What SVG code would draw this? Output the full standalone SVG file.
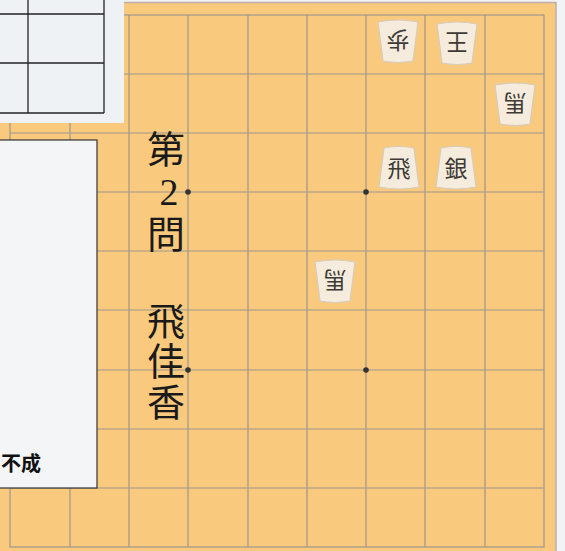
<svg xmlns="http://www.w3.org/2000/svg" width="565" height="551" viewBox="0 0 565 551">
<defs>
<style>
.grid{stroke:#9f978c;stroke-width:1.2;fill:none}
.piece{fill:#f5ecdd;stroke:#d6cbbb;stroke-width:1.2}
.pt{font-family:"Noto Sans CJK JP",sans-serif;font-size:23px;fill:#3e3a36;text-anchor:middle}
.title{font-family:"Liberation Serif","Noto Sans CJK JP",serif;font-size:38px;fill:#1a1a1a;text-anchor:middle}
.star{fill:#333}
</style>
<path id="pc" class="piece" d="M-15,-21 Q0,-24 15,-21 L20,18 Q0,22 -20,18 Z"/>
</defs>
<rect x="0" y="0" width="565" height="551" fill="#f1f3f5"/>
<g id="board">
<path d="M124,2 H556 V551 H0 V123 H124 Z" fill="#f9c97e"/>
<line x1="124" y1="2.5" x2="556" y2="2.5" stroke="#c2aab0" stroke-width="1.5"/>
<line x1="556" y1="2" x2="556" y2="551" stroke="#b7b2ac" stroke-width="1.5"/>
<g class="grid">
<rect x="10" y="15" width="534" height="532"/>
<line x1="70" y1="15" x2="70" y2="547"/>
<line x1="129" y1="15" x2="129" y2="547"/>
<line x1="188" y1="15" x2="188" y2="547"/>
<line x1="248" y1="15" x2="248" y2="547"/>
<line x1="307" y1="15" x2="307" y2="547"/>
<line x1="366" y1="15" x2="366" y2="547"/>
<line x1="425" y1="15" x2="425" y2="547"/>
<line x1="485" y1="15" x2="485" y2="547"/>
<line x1="10" y1="74" x2="544" y2="74"/>
<line x1="10" y1="133" x2="544" y2="133"/>
<line x1="10" y1="192" x2="544" y2="192"/>
<line x1="10" y1="251" x2="544" y2="251"/>
<line x1="10" y1="310" x2="544" y2="310"/>
<line x1="10" y1="370" x2="544" y2="370"/>
<line x1="10" y1="429" x2="544" y2="429"/>
<line x1="10" y1="488" x2="544" y2="488"/>
</g>
<circle class="star" cx="188" cy="192" r="2.8"/>
<circle class="star" cx="366" cy="192" r="2.8"/>
<circle class="star" cx="188" cy="370" r="2.8"/>
<circle class="star" cx="366" cy="370" r="2.8"/>
</g>
<g id="topleft-box">
<rect x="0" y="0" width="124" height="123" fill="#eef2f5"/>
<g stroke="#222" stroke-width="1.3">
<line x1="28" y1="0" x2="28" y2="113"/>
<line x1="104" y1="0" x2="104" y2="113"/>
<line x1="0" y1="14" x2="104" y2="14"/>
<line x1="0" y1="63" x2="104" y2="63"/>
<line x1="0" y1="113" x2="104" y2="113"/>
</g>
</g>
<g id="left-box">
<rect x="-2" y="140" width="99" height="348" fill="#f4f5f7" stroke="#333" stroke-width="1.2"/>
<text x="1" y="471" font-family="'Noto Sans CJK JP',sans-serif" font-size="20" font-weight="bold" fill="#111">不成</text>
</g>
<g id="title">
<text class="title" x="166" y="163">第</text>
<text class="title" x="169" y="205" font-size="42">2</text>
<text class="title" x="166" y="248">問</text>
<text class="title" x="166" y="335">飛</text>
<text class="title" x="166" y="375">佳</text>
<text class="title" x="166" y="416">香</text>
</g>
<g id="piece-fu-gote" transform="translate(398,40) rotate(180)">
<use href="#pc"/><text class="pt" y="8">歩</text>
</g>
<g id="piece-ou-gote" transform="translate(457,42) rotate(180)">
<use href="#pc"/><text class="pt" y="8">王</text>
</g>
<g id="piece-uma-gote-1" transform="translate(515,103) rotate(180)">
<use href="#pc"/><text class="pt" y="8">馬</text>
</g>
<g id="piece-uma-gote-2" transform="translate(335,280) rotate(180)">
<use href="#pc"/><text class="pt" y="8">馬</text>
</g>
<g id="piece-hi" transform="translate(399,169)">
<use href="#pc"/><text class="pt" y="8">飛</text>
</g>
<g id="piece-gin" transform="translate(456,169)">
<use href="#pc"/><text class="pt" y="8">銀</text>
</g>
<g id="connectors"/>
</svg>
